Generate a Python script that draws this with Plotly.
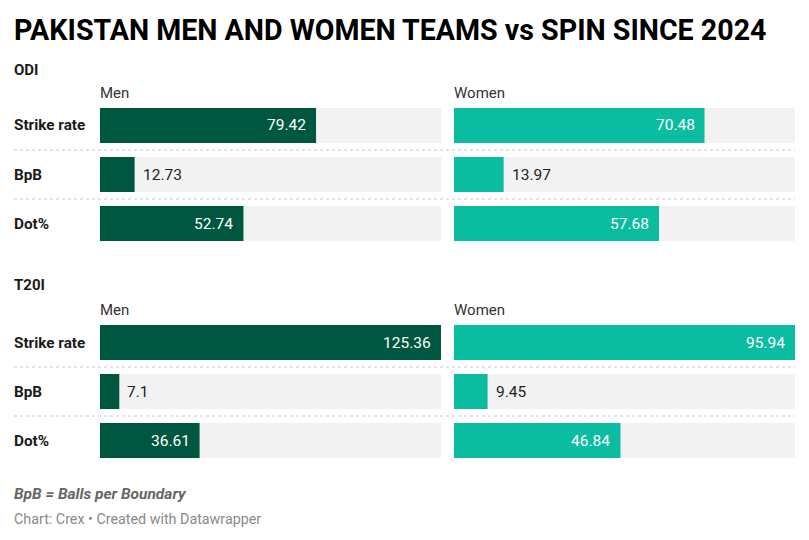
import plotly.graph_objects as go

# ---- data ----
metrics = ["Strike rate", "BpB", "Dot%"]
odi_men = [79.42, 12.73, 52.74]
odi_women = [70.48, 13.97, 57.68]
t20_men = [125.36, 7.1, 36.61]
t20_women = [95.94, 9.45, 46.84]
sections = ["ODI", "T20I"]
groups = ["Men", "Women"]
title = "PAKISTAN MEN AND WOMEN TEAMS vs SPIN SINCE 2024"
note = "BpB = Balls per Boundary"
credit = "Chart: Crex • Created with Datawrapper"

W, H = 809, 540
MEN_C = "#00573f"
WOMEN_C = "#0abda0"
BG_C = "#f2f2f2"
FONT = "Roboto"

men_max = max(odi_men + t20_men)
women_max = max(odi_women + t20_women)


def px(x):
    return x / W


def py(y):
    return 1 - y / H


fig = go.Figure()

panels = [
    ("", odi_men, MEN_C, men_max, (100, 441), (101, 248)),
    ("2", odi_women, WOMEN_C, women_max, (454, 795), (101, 248)),
    ("3", t20_men, MEN_C, men_max, (100, 441), (318, 465)),
    ("4", t20_women, WOMEN_C, women_max, (454, 795), (318, 465)),
]

annotations = []
shapes = []
for suf, vals, col, mx, xd, yd in panels:
    xa, ya = "x" + suf, "y" + suf
    fig.add_trace(go.Bar(
        x=[mx] * len(metrics), y=metrics, orientation="h",
        marker=dict(color=BG_C, line=dict(width=0)),
        xaxis=xa, yaxis=ya, hoverinfo="skip", showlegend=False))
    fig.add_trace(go.Bar(
        x=vals, y=metrics, orientation="h",
        marker=dict(color=col, line=dict(width=0)),
        xaxis=xa, yaxis=ya, showlegend=False))
    key = "xaxis" + suf
    fig.layout[key] = dict(domain=[px(xd[0]), px(xd[1])], range=[0, mx],
                           visible=False, fixedrange=True)
    kwargs = dict(domain=[py(yd[1]), py(yd[0])], range=[2.5, -0.5],
                  visible=False, fixedrange=True, type="category",
                  categoryorder="array", categoryarray=metrics)
    if suf:
        kwargs["anchor"] = xa
    fig.layout["yaxis" + suf] = kwargs
    if suf:
        fig.layout[key]["anchor"] = ya
    for m, v in zip(metrics, vals):
        inside = v / mx > 0.2
        annotations.append(dict(
            x=v, y=m, xref=xa, yref=ya, text=f"{v:g}", showarrow=False,
            xanchor="right" if inside else "left",
            xshift=-8 if inside else 6,
            font=dict(family=FONT, size=15.5, color="#ffffff" if inside else "#222222")))

LX = 12  # left text edge (compensating annotation padding)

for ya in ["y", "y3"]:
    for m in metrics:
        annotations.append(dict(
            x=px(LX), y=m, xref="paper", yref=ya, text=f"<b>{m}</b>",
            showarrow=False, xanchor="left",
            font=dict(family=FONT, size=15.3, color="#1a1a1a")))
    for k in [0.5, 1.5]:
        shapes.append(dict(type="line", xref="paper", yref=ya,
                           x0=px(14), x1=px(795), y0=k, y1=k,
                           line=dict(color="#c8c8c8", width=1, dash="dot")))

for sec, ys, yg in [(sections[0], 70, 93), (sections[1], 285, 310)]:
    annotations.append(dict(x=px(LX), y=py(ys), xref="paper", yref="paper",
                            text=f"<b>{sec}</b>", showarrow=False, xanchor="left",
                            yanchor="middle",
                            font=dict(family=FONT, size=15, color="#1a1a1a")))
    for g, gx in zip(groups, [98, 452]):
        annotations.append(dict(x=px(gx), y=py(yg), xref="paper", yref="paper",
                                text=g, showarrow=False, xanchor="left",
                                yanchor="middle",
                                font=dict(family=FONT, size=15, color="#333333")))

annotations.append(dict(x=px(LX), y=py(30), xref="paper", yref="paper",
                        text=f"<b>{title}</b>", showarrow=False, xanchor="left",
                        yanchor="middle",
                        font=dict(family=FONT, size=28.6, color="#000000")))
annotations.append(dict(x=px(LX), y=py(494), xref="paper", yref="paper",
                        text=f"<b><i>{note}</i></b>", showarrow=False, xanchor="left",
                        yanchor="middle",
                        font=dict(family=FONT, size=15.5, color="#666666")))
annotations.append(dict(x=px(LX), y=py(519), xref="paper", yref="paper",
                        text=credit, showarrow=False, xanchor="left",
                        yanchor="middle",
                        font=dict(family=FONT, size=14.3, color="#8a8a8a")))

fig.update_layout(
    width=W, height=H, margin=dict(l=0, r=0, t=0, b=0),
    paper_bgcolor="white", plot_bgcolor="white",
    barmode="overlay", bargap=14 / 49,
    annotations=annotations, shapes=shapes,
    font=dict(family=FONT),
)

fig.write_html("out.html", config={"displayModeBar": False})
